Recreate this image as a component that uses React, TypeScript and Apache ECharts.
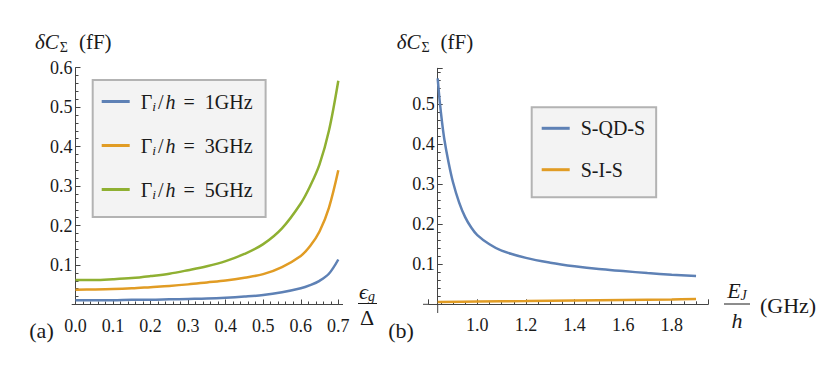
import React, { useEffect, useRef } from 'react';
import * as echarts from 'echarts';

// ---------- data (a) ----------
const epsA = [0, 0.05, 0.1, 0.15, 0.2, 0.25, 0.3, 0.35, 0.4, 0.45, 0.5, 0.55, 0.6, 0.625, 0.65, 0.675, 0.7];
const gamma1 = [0.011, 0.011, 0.011, 0.012, 0.012, 0.013, 0.014, 0.015, 0.017, 0.02, 0.024, 0.031, 0.041, 0.049, 0.06, 0.078, 0.114];
const gamma3 = [0.0375, 0.038, 0.039, 0.041, 0.044, 0.047, 0.051, 0.056, 0.061, 0.068, 0.077, 0.095, 0.123, 0.148, 0.185, 0.245, 0.34];
const gamma5 = [0.062, 0.062, 0.064, 0.067, 0.072, 0.078, 0.087, 0.097, 0.11, 0.128, 0.153, 0.193, 0.256, 0.3, 0.355, 0.44, 0.567];

// ---------- data (b) ----------
const ejQD = [0.837, 0.845, 0.855, 0.865, 0.88, 0.9, 0.925, 0.95, 0.975, 1.0, 1.05, 1.1, 1.2, 1.3, 1.4, 1.5, 1.6, 1.7, 1.8, 1.9];
const sqds = [0.565, 0.51, 0.455, 0.41, 0.36, 0.305, 0.255, 0.218, 0.192, 0.173, 0.15, 0.134, 0.116, 0.104, 0.095, 0.088, 0.083, 0.078, 0.074, 0.071];
const ejSIS = [0.837, 1.0, 1.2, 1.4, 1.6, 1.8, 1.9];
const sis = [0.006, 0.007, 0.008, 0.0095, 0.011, 0.012, 0.013];

const xTicksA = [0, 0.1, 0.2, 0.3, 0.4, 0.5, 0.6, 0.7];
const xTicksB = [1.0, 1.2, 1.4, 1.6, 1.8];
const yTicks = [0.1, 0.2, 0.3, 0.4, 0.5, 0.6];

const BLUE = '#5e81b5';
const ORANGE = '#e19c24';
const GREEN = '#8fb032';
const AX = '#444';
const TXT = '#1a1a1a';
const SERIF = 'Liberation Serif';

const near = (v: number, list: number[]) => list.some((t) => Math.abs(t - v) < 1e-6);

const axisCommon = {
  axisLine: { show: true, onZero: true, lineStyle: { color: AX, width: 1 } },
  axisTick: { show: true, inside: true, length: 5, lineStyle: { color: AX, width: 1 } },
  minorTick: { show: true, splitNumber: 5, length: 3, lineStyle: { color: AX, width: 1 } },
  splitLine: { show: false },
  minorSplitLine: { show: false },
};

const legendRich = {
  n: { fontFamily: SERIF, fontSize: 20, color: TXT, lineHeight: 22 },
  sl: { fontFamily: SERIF, fontSize: 20, color: TXT, lineHeight: 22, padding: [0, 2, 0, 0] },
  e: { fontFamily: SERIF, fontSize: 20, color: TXT, lineHeight: 22, padding: [0, 10, 0, 8] },
  i: { fontFamily: SERIF, fontSize: 20, color: TXT, fontStyle: 'italic', lineHeight: 22 },
  s: { fontFamily: SERIF, fontSize: 13.5, color: TXT, fontStyle: 'italic', lineHeight: 14, padding: [9, 2, 0, 0] },
};

const legendNames: Record<string, string> = {
  g1: '{n|Γ}{s|i}{sl|/}{i|h}{e|=}{n|1GHz}',
  g3: '{n|Γ}{s|i}{sl|/}{i|h}{e|=}{n|3GHz}',
  g5: '{n|Γ}{s|i}{sl|/}{i|h}{e|=}{n|5GHz}',
  qd: '{n|S-QD-S}',
  sis: '{n|S-I-S}',
};

const titleRich = {
  i: { fontFamily: SERIF, fontSize: 21, color: TXT, fontStyle: 'italic', lineHeight: 22 },
  s: { fontFamily: SERIF, fontSize: 14, color: TXT, lineHeight: 14, padding: [10, 0, 0, 1] },
  n: { fontFamily: SERIF, fontSize: 21, color: TXT, lineHeight: 22, padding: [0, 0, 0, 11] },
};
const fracRich = {
  i: { fontFamily: SERIF, fontSize: 22, color: TXT, fontStyle: 'italic', lineHeight: 22 },
  s: { fontFamily: SERIF, fontSize: 14, color: TXT, fontStyle: 'italic', lineHeight: 14, padding: [10, 0, 0, 0] },
};

function buildOption() {
  const lineSeries = (name: string, xs: number[], ys: number[], color: string, idx: number) => ({
    name,
    type: 'line',
    xAxisIndex: idx,
    yAxisIndex: idx,
    data: xs.map((x, i) => [x, ys[i]]),
    showSymbol: false,
    smooth: 0.35,
    lineStyle: { color, width: 2.5 },
    itemStyle: { color },
    z: 3,
  });

  const txt = (x: number, y: number, text: string, extra: any = {}) => ({
    type: 'text',
    x,
    y,
    silent: true,
    style: {
      text,
      fontFamily: SERIF,
      fontSize: 22,
      fill: TXT,
      align: 'center',
      verticalAlign: 'middle',
      ...extra,
    },
  });
  const seg = (x1: number, y1: number, x2: number, y2: number, color = AX, w = 1) => ({
    type: 'line',
    silent: true,
    shape: { x1, y1, x2, y2 },
    style: { stroke: color, lineWidth: w },
  });

  const labelBase = { fontFamily: SERIF, fontSize: 18, color: TXT };

  return {
    animation: false,
    backgroundColor: '#fff',
    textStyle: { fontFamily: SERIF },
    grid: [
      { left: 75.5, top: 67.7, width: 262.8, height: 236.8, containLabel: false, outerBoundsMode: 'none' },
      { left: 428.7, top: 68.3, width: 279.5, height: 236, containLabel: false, outerBoundsMode: 'none' },
    ],
    xAxis: [
      {
        type: 'value', gridIndex: 0, min: 0, max: 0.7, interval: 0.1,
        ...axisCommon,
        axisLabel: {
          ...labelBase, margin: 12,
          formatter: (v: number) => (near(v, xTicksA) ? v.toFixed(1) : ''),
        },
      },
      {
        type: 'value', gridIndex: 1, min: 0.8, max: 1.95, interval: 0.2,
        ...axisCommon,
        minorTick: { ...axisCommon.minorTick, splitNumber: 4 },
        axisLabel: {
          ...labelBase, margin: 12,
          formatter: (v: number) => (near(v, xTicksB) ? v.toFixed(1) : ''),
        },
      },
    ],
    yAxis: [
      {
        type: 'value', gridIndex: 0, min: 0, max: 0.6, interval: 0.1,
        ...axisCommon,
        axisLabel: {
          ...labelBase, margin: 3,
          formatter: (v: number) => (near(v, yTicks) ? v.toFixed(1) : ''),
        },
      },
      {
        type: 'value', gridIndex: 1, min: 0, max: 0.59, interval: 0.1, offset: -9,
        ...axisCommon,
        axisLabel: {
          ...labelBase, margin: 3,
          formatter: (v: number) => (near(v, yTicks.slice(0, 5)) ? v.toFixed(1) : ''),
        },
      },
    ],
    legend: [
      {
        data: ['g1', 'g3', 'g5'],
        orient: 'vertical',
        left: 92.7,
        top: 80,
        icon: 'rect',
        itemWidth: 28,
        itemHeight: 3,
        itemGap: 21,
        padding: [10, 13, 16, 9],
        backgroundColor: '#f3f3f3',
        borderColor: '#b3b3b3',
        borderWidth: 2,
        borderRadius: 0,
        selectedMode: false,
        formatter: (name: string) => legendNames[name],
        textStyle: { fontFamily: SERIF, fontSize: 20, color: TXT, padding: [0, 0, 0, 6], rich: legendRich },
      },
      {
        data: ['qd', 'sis'],
        orient: 'vertical',
        left: 531.7,
        top: 107.3,
        icon: 'rect',
        itemWidth: 28,
        itemHeight: 3,
        itemGap: 21.4,
        padding: [11, 11, 17.5, 10],
        backgroundColor: '#f3f3f3',
        borderColor: '#b3b3b3',
        borderWidth: 2,
        borderRadius: 0,
        selectedMode: false,
        formatter: (name: string) => legendNames[name],
        textStyle: { fontFamily: SERIF, fontSize: 20, color: TXT, padding: [0, 0, 0, 6], rich: legendRich },
      },
    ],
    series: [
      lineSeries('g1', epsA, gamma1, BLUE, 0),
      lineSeries('g3', epsA, gamma3, ORANGE, 0),
      lineSeries('g5', epsA, gamma5, GREEN, 0),
      lineSeries('qd', ejQD, sqds, BLUE, 1),
      lineSeries('sis', ejSIS, sis, ORANGE, 1),
    ],
    graphic: [
      // titles
      txt(35, 42, '{i|δC}{s|Σ}{n|(fF)}', { align: 'left', rich: titleRich }),
      txt(396.7, 42, '{i|δC}{s|Σ}{n|(fF)}', { align: 'left', rich: titleRich }),
      // panel tags
      txt(41.5, 330, '(a)'),
      txt(401, 330, '(b)'),
      // x-axis name (a): eps_g / Delta
      txt(367, 291, '{i|ϵ}{s|g}', { rich: fracRich }),
      seg(358, 303.5, 377, 303.5, TXT, 1),
      txt(367, 317, 'Δ'),
      // x-axis name (b): E_J / h (GHz)
      txt(737, 290, '{i|E}{s|J}', { rich: fracRich }),
      seg(724, 304, 750, 304, TXT, 1),
      txt(737, 320, 'h', { fontStyle: 'italic' }),
      txt(760, 305, '(GHz)', { align: 'left' }),
      // small axis extensions
      seg(71.7, 304.5, 75.5, 304.5),
      seg(338.3, 304.5, 343, 304.5),
      seg(423, 304.3, 428.7, 304.3),
      seg(437.7, 304.3, 437.7, 313),
    ],
  };
}

export default function App() {
  const ref = useRef<HTMLDivElement>(null);
  useEffect(() => {
    if (!ref.current) return;
    const chart = echarts.init(ref.current, null, { renderer: 'svg' });
    chart.setOption(buildOption() as any);
    return () => chart.dispose();
  }, []);
  return (
    <div
      ref={ref}
      style={{ position: 'absolute', left: 0, top: 0, width: 830, height: 370, background: '#fff' }}
    />
  );
}
